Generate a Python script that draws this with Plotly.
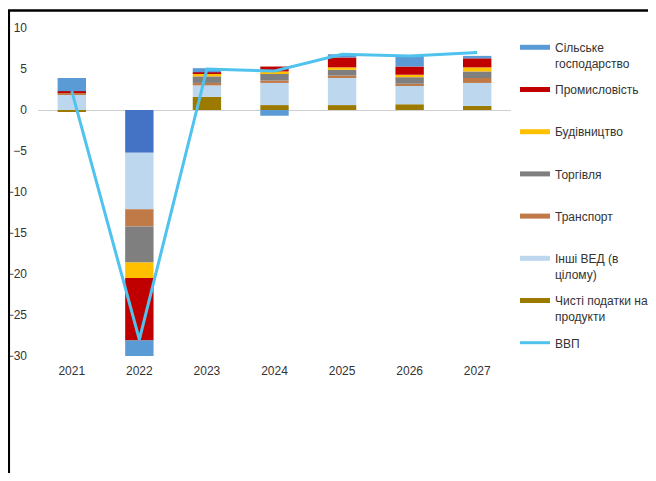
import plotly.graph_objects as go

years = ["2021", "2022", "2023", "2024", "2025", "2026", "2027"]

# components (stack order from zero outward)
chysti_podatky = [-0.2, -5.2, 1.6, 0.6, 0.6, 0.7, 0.5]
inshi_ved = [1.9, -6.9, 1.4, 2.7, 3.4, 2.3, 2.8]
transport = [0.2, -2.1, 0.3, 0.3, 0.2, 0.2, 0.6]
torgivlia = [0.0, -4.4, 0.8, 0.9, 0.7, 0.8, 0.8]
budivnytstvo = [0.0, -1.9, 0.3, 0.2, 0.3, 0.3, 0.5]
promyslovist = [0.2, -7.6, 0.2, 0.6, 1.2, 1.0, 1.1]
silske = [1.6, -1.9, 0.5, -0.7, 0.4, 1.3, 0.3]
vvp = [2.3, -28.0, 5.0, 4.75, 6.8, 6.6, 7.0]

y_ticks = [10, 5, 0, -5, -10, -15, -20, -25, -30]

names = {
    "silske": "Сільське<br>господарство",
    "prom": "Промисловість",
    "bud": "Будівництво",
    "torg": "Торгівля",
    "trans": "Транспорт",
    "inshi": "Інші ВЕД (в<br>цілому)",
    "chysti": "Чисті податки на<br>продукти",
    "vvp": "ВВП",
}

colors = {
    "silske": "#5B9BD5",
    "prom": "#C00000",
    "bud": "#FFC000",
    "torg": "#7F7F7F",
    "trans": "#C07A48",
    "inshi": "#BDD7EE",
    "chysti": "#9C7A00",
    "vvp": "#4FC3EE",
}

# 2022 net-taxes point is drawn in a darker blue in the original
chysti_colors = [colors["chysti"]] * len(years)
chysti_colors[years.index("2022")] = "#4472C4"

fig = go.Figure()

stack = [
    ("chysti", chysti_podatky),
    ("inshi", inshi_ved),
    ("trans", transport),
    ("torg", torgivlia),
    ("bud", budivnytstvo),
    ("prom", promyslovist),
    ("silske", silske),
]
for key, vals in stack:
    fig.add_trace(go.Bar(
        x=years, y=vals, name=names[key], legendgroup=key, showlegend=False,
        marker=dict(color=chysti_colors if key == "chysti" else colors[key], line=dict(width=0)),
    ))

fig.add_trace(go.Scatter(
    x=years, y=vvp, name=names["vvp"], mode="lines", legendgroup="vvp", showlegend=False,
    line=dict(color=colors["vvp"], width=3),
))

# legend entries (line-style keys as in the original)
legend_order = ["silske", "prom", "bud", "torg", "trans", "inshi", "chysti", "vvp"]
for rank, key in enumerate(legend_order):
    label = names[key]
    if "<br>" not in label and key != "vvp":
        label = label + "<br> "
    fig.add_trace(go.Scatter(
        x=[None], y=[None], mode="lines", name=label, legendgroup=key,
        legendrank=rank + 1, showlegend=True,
        line=dict(color=colors[key], width=3 if key == "vvp" else 5),
    ))

# figure sized to fit the page with its 8px body margin (no scrollbars)
W, H = 640, 465
L, T = 30, 20
plot_right, plot_bottom = 503, 348
R, B = W - plot_right, H - plot_bottom
pw, ph = plot_right - L, plot_bottom - T

def px_x(p):
    return (p - L) / pw

def px_y(p):
    return (plot_bottom - p) / ph

fig.update_layout(
    width=W, height=H,
    margin=dict(l=L, r=R, t=T, b=B, autoexpand=False),
    paper_bgcolor="white", plot_bgcolor="white",
    barmode="relative", bargap=0.58,
    font=dict(family="Liberation Sans, Arial, sans-serif", size=12, color="#333333"),
    showlegend=True,
    legend=dict(
        xref="container", yref="container",
        x=507 / W, y=1 - 25 / H, xanchor="left", yanchor="top",
        valign="top", tracegroupgap=8, traceorder="grouped", maxheight=440,
        font=dict(size=12, color="#333333"), bgcolor="rgba(0,0,0,0)",
    ),
    xaxis=dict(type="category", showgrid=False, showline=False, ticks="", automargin=False,
               zeroline=False, tickfont=dict(size=12), ticklabelstandoff=6),
    yaxis=dict(range=[-30, 10], tickvals=y_ticks, showgrid=False, showline=False,
               ticks="", zeroline=True, zerolinecolor="#D0D0D0", zerolinewidth=1,
               automargin=False, ticklabelstandoff=10, tickfont=dict(size=12)),
    shapes=[
        dict(type="line", xref="paper", yref="paper", x0=px_x(0), x1=px_x(W + 5),
             y0=px_y(2.5), y1=px_y(2.5), line=dict(color="black", width=2.5)),
        dict(type="line", xref="paper", yref="paper", x0=px_x(0.8), x1=px_x(0.8),
             y0=px_y(2.5), y1=px_y(H + 5), line=dict(color="black", width=2.5)),
    ],
)

fig.write_html("out.html")
